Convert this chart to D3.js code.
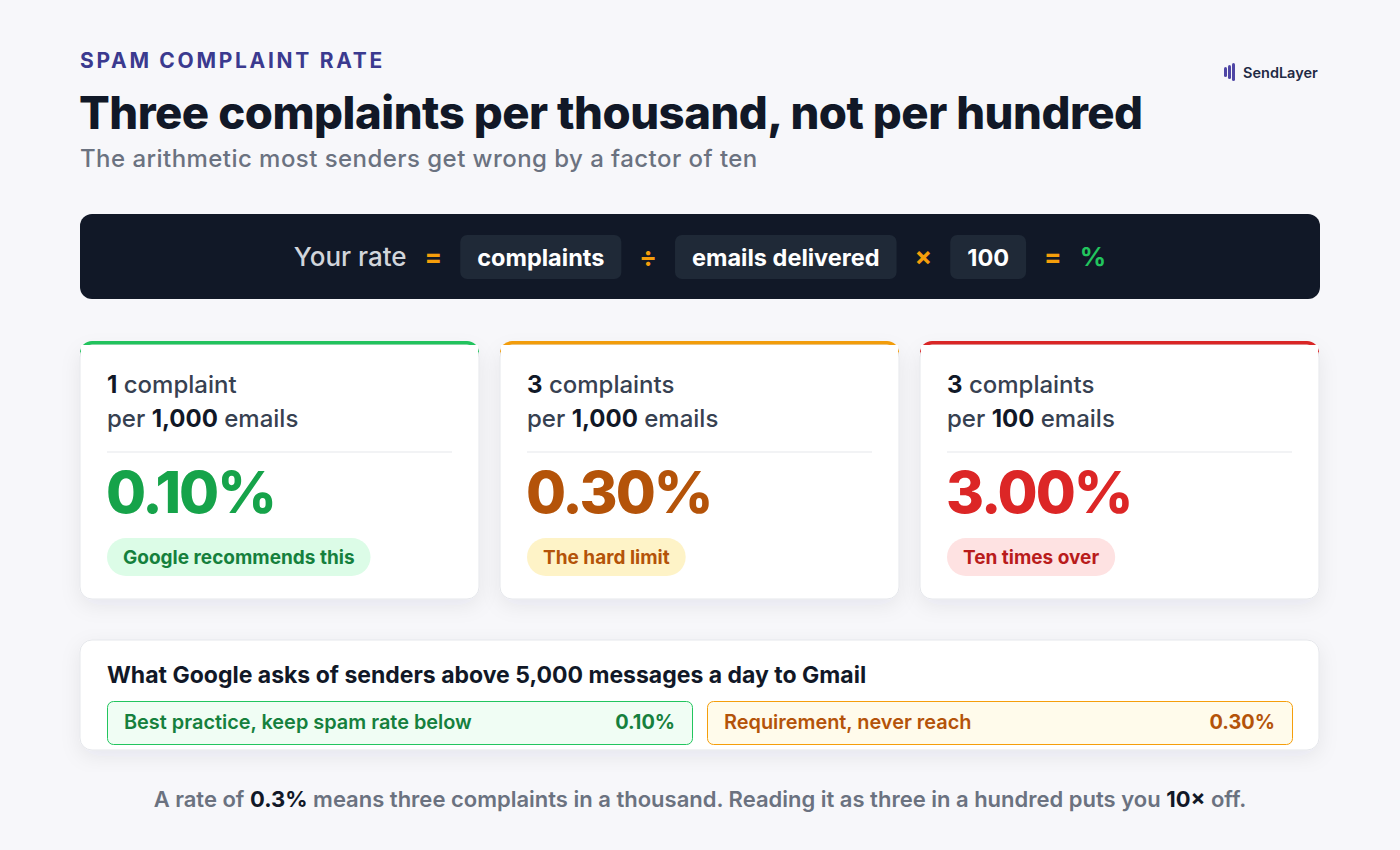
<!DOCTYPE html>
<html><head><meta charset="utf-8">
<script src="https://cdn.jsdelivr.net/npm/d3@7"></script>
<style>body{margin:0;background:#f7f7fa;font-family:Inter,sans-serif}</style>
</head><body>
<script>
// données
const formula = [
  {t: "Your rate", kind: "label"}, {t: "=", kind: "op"},
  {t: "complaints", kind: "chip"}, {t: "÷", kind: "op"},
  {t: "emails delivered", kind: "chip"}, {t: "×", kind: "op"},
  {t: "100", kind: "chip"}, {t: "=", kind: "op"}, {t: "%", kind: "pct"}
];
const counts = ["1", "3", "3"];
const nouns = ["complaint", "complaints", "complaints"];
const bases = ["1,000", "1,000", "100"];
const rates = [0.001, 0.003, 0.03];
const verdicts = ["Google recommends this", "The hard limit", "Ten times over"];
const tones = [
  {bar: "#22c55e", val: "#16a34a", pill: "#dcfce7", pillText: "#15803d"},
  {bar: "#f59e0b", val: "#b45309", pill: "#fef3c7", pillText: "#b45309"},
  {bar: "#dc2626", val: "#dc2626", pill: "#fee2e2", pillText: "#b91c1c"}
];
const rules = ["Best practice, keep spam rate below", "Requirement, never reach"];
const ruleValues = [0.001, 0.003];

const svg = d3.select("body").append("svg").attr("width", 1400).attr("height", 850);
const defs = svg.append("defs");
const f = defs.append("filter").attr("id", "sh").attr("x", "-10%").attr("y", "-10%").attr("width", "120%").attr("height", "130%");
f.append("feDropShadow").attr("dx", 0).attr("dy", 6).attr("stdDeviation", 10).attr("flood-color", "#1e1b4b").attr("flood-opacity", 0.07);

const pct = d3.format(".2%");

// en-tête
svg.append("text").attr("x", 80).attr("y", 68).text("SPAM COMPLAINT RATE")
  .style("font-size", "21px").style("font-weight", 700).style("letter-spacing", "2.7px").style("fill", "#3b3a8f");
svg.append("text").attr("x", 79).attr("y", 129).text("Three complaints per thousand, not per hundred")
  .style("font-size", "45.5px").style("font-weight", 800).style("fill", "#111827").style("letter-spacing", "-0.5px");
svg.append("text").attr("x", 80).attr("y", 167).text("The arithmetic most senders get wrong by a factor of ten")
  .style("font-size", "24px").style("font-weight", 500).style("letter-spacing", "0.45px").style("fill", "#6b7280");

// logo
const logo = svg.append("g").attr("transform", "translate(1224,63)");
[[0,4,10],[4,2,14],[8,0,18]].forEach(([x, y, h]) =>
  logo.append("rect").attr("x", x).attr("y", y).attr("width", 3).attr("height", h).attr("rx", 1.5).style("fill", "#4f46a5"));
logo.append("text").attr("x", 19).attr("y", 15).text("SendLayer")
  .style("font-size", "14.5px").style("font-weight", 600).style("fill", "#1f2a44");

// barre formule
svg.append("rect").attr("x", 80).attr("y", 214).attr("width", 1240).attr("height", 85).attr("rx", 12).style("fill", "#111827");
const fg = svg.append("g");
const gap = 18, pad = 17;
let cx = 0;
const items = formula.map(d => {
  const t = fg.append("text").attr("y", 266).text(d.t)
    .style("font-size", d.kind === "label" ? "26px" : (d.kind === "chip" ? "23.5px" : "26px"))
    .style("font-weight", d.kind === "label" ? 500 : 700)
    .style("fill", d.kind === "label" ? "#d1d5db" : d.kind === "op" ? "#f59e0b" : d.kind === "pct" ? "#22c55e" : "#ffffff");
  const w = t.node().getComputedTextLength();
  const full = d.kind === "chip" ? w + 2 * pad : w;
  const it = {d, t, w, x: cx, full};
  cx += full + gap;
  return it;
});
const startX = 700 - (cx - gap) / 2;
items.forEach(it => {
  const x0 = startX + it.x;
  if (it.d.kind === "chip") {
    fg.insert("rect", "text").attr("x", x0).attr("y", 235).attr("width", it.full).attr("height", 44).attr("rx", 7).style("fill", "#1f2937");
    it.t.attr("x", x0 + pad);
  } else it.t.attr("x", x0);
});

// cartes
const cw = 399;
const cards = svg.selectAll(".card").data(d3.range(3)).enter().append("g")
  .attr("transform", i => `translate(${80 + i * 420},341)`);
cards.append("path").attr("d", "M0,12 a12,12 0 0 1 12,-12 h375 a12,12 0 0 1 12,12 v10 h-399 z")
  .style("fill", i => tones[i].bar);
cards.append("rect").attr("y", 4).attr("width", cw).attr("height", 254).attr("rx", 12)
  .style("fill", "#fff").style("stroke", "#e5e7eb").attr("filter", "url(#sh)");
cards.append("rect").attr("x", 1).attr("y", 4).attr("width", cw - 2).attr("height", 10).style("fill", "#fff");
const l1 = cards.append("text").attr("x", 27).attr("y", 52).style("font-size", "24px").style("font-weight", 500).style("fill", "#374151");
l1.append("tspan").text(i => counts[i]).style("font-weight", 700).style("fill", "#111827");
l1.append("tspan").text(i => " " + nouns[i]);
const l2 = cards.append("text").attr("x", 27).attr("y", 86).style("font-size", "24px").style("font-weight", 500).style("fill", "#374151");
l2.append("tspan").text("per ");
l2.append("tspan").text(i => bases[i]).style("font-weight", 700).style("fill", "#111827");
l2.append("tspan").text(" emails");
cards.append("line").attr("x1", 27).attr("x2", 372).attr("y1", 111).attr("y2", 111).style("stroke", "#e5e7eb");
cards.append("text").attr("x", 26).attr("y", 172).text(i => pct(rates[i]))
  .style("font-size", "58px").style("font-weight", 800).style("letter-spacing", "-2px").style("fill", i => tones[i].val);
cards.each(function(i) {
  const g = d3.select(this);
  const t = g.append("text").attr("x", 43).attr("y", 223).text(verdicts[i])
    .style("font-size", "19px").style("font-weight", 700).style("fill", tones[i].pillText);
  const w = t.node().getComputedTextLength();
  g.insert("rect", "text:last-of-type").attr("x", 27).attr("y", 197).attr("width", w + 32).attr("height", 38).attr("rx", 19).style("fill", tones[i].pill);
  t.raise();
});

// panneau Google
svg.append("rect").attr("x", 80).attr("y", 640).attr("width", 1239).attr("height", 110).attr("rx", 12)
  .style("fill", "#fff").style("stroke", "#e5e7eb").attr("filter", "url(#sh)");
svg.append("text").attr("x", 107).attr("y", 683).text("What Google asks of senders above 5,000 messages a day to Gmail")
  .style("font-size", "23px").style("font-weight", 700).style("fill", "#111827");
const rg = svg.selectAll(".rule").data(d3.range(2)).enter().append("g")
  .attr("transform", i => `translate(${107 + i * 600},701)`);
rg.append("rect").attr("x", 0.5).attr("y", 0.5).attr("width", 585).attr("height", 43).attr("rx", 6)
  .style("fill", i => i ? "#fffbeb" : "#f0fdf4").style("stroke", i => i ? "#f59e0b" : "#22c55e");
rg.append("text").attr("x", 17).attr("y", 28).text(i => rules[i])
  .style("font-size", "19.9px").style("font-weight", 600).style("fill", i => i ? "#b45309" : "#15803d");
rg.append("text").attr("x", 568).attr("y", 28).attr("text-anchor", "end").text(i => pct(ruleValues[i]))
  .style("font-size", "19.9px").style("font-weight", 700).style("fill", i => i ? "#b45309" : "#15803d");

// pied
const ft = svg.append("text").attr("x", 700).attr("y", 807).attr("text-anchor", "middle")
  .style("font-size", "22px").style("font-weight", 600).style("fill", "#6b7280");
ft.append("tspan").text("A rate of ");
ft.append("tspan").text("0.3%").style("font-weight", 700).style("fill", "#111827");
ft.append("tspan").text(" means three complaints in a thousand. Reading it as three in a hundred puts you ");
ft.append("tspan").text("10×").style("font-weight", 700).style("fill", "#111827");
ft.append("tspan").text(" off.");
</script>
</body></html>
